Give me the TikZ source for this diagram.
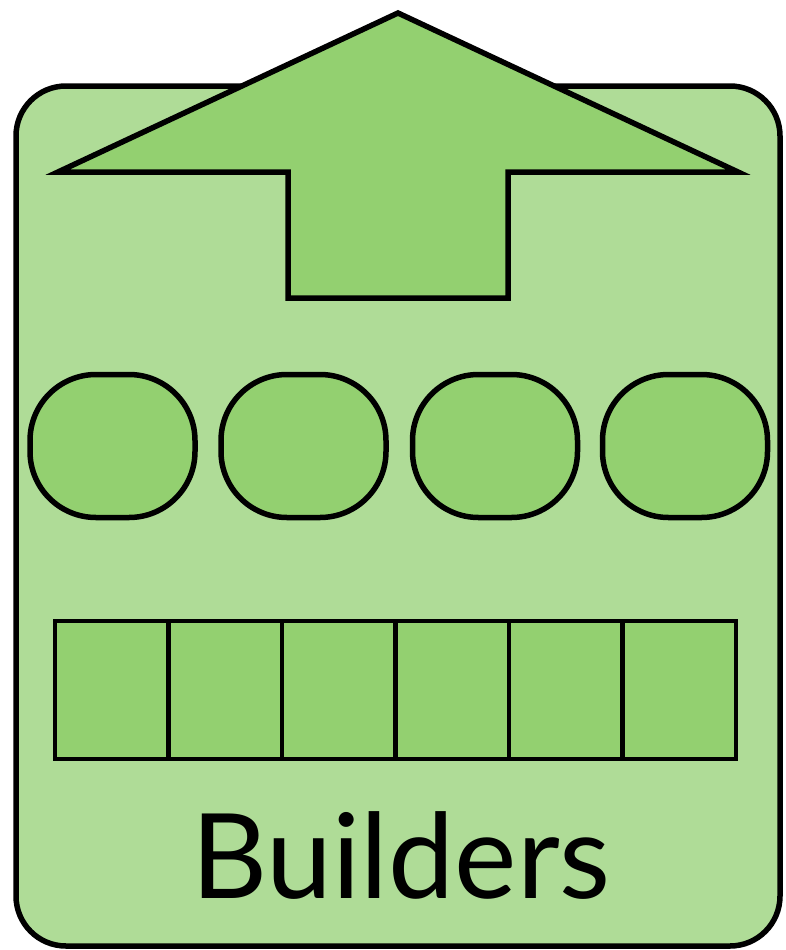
\documentclass[tikz,border=0pt]{standalone}
\usepackage{fontspec}
\setmainfont{Lato}
\usepackage{tikz}
\usetikzlibrary{positioning}
\definecolor{buildgreen} {HTML}{AFDC97}
\definecolor{workgreen}  {HTML}{93D070}

\begin{document}
\begin{tikzpicture}[
  frame/.style ={draw=black,line width=5.5pt,fill=buildgreen,rounded corners=50pt,
                 minimum width=764pt,minimum height=860pt,inner sep=0pt},
  worker/.style={draw=black,line width=5.5pt,fill=workgreen,rounded corners=66pt,
                 minimum width=165pt,minimum height=143pt,inner sep=0pt},
  cell/.style  ={draw=black,line width=4.5pt,fill=workgreen,
                 minimum width=113.5pt,minimum height=138pt,inner sep=0pt},
  arrowup/.style={draw=black,line width=5.5pt,fill=workgreen,line join=miter},
  title/.style ={font=\fontsize{118}{120}\selectfont,anchor=base,inner sep=0pt},
  x=1pt, y=-1pt
]
\useasboundingbox (0,0) rectangle (785,950);

%% Outer box
\node[frame] (box) at (398,516) {};

%% Big up arrow (drawn over the top edge of the box)
\draw[arrowup] (58,172) -- (398,13) -- (738,172) -- (508,172)
  -- (508,298) -- (288,298) -- (288,172) -- cycle;

%% Row of workers  (x = 112 / 303 / 495 / 685)
\node[worker] (w1) at (112.5,446) {};
\node[worker] (w2) at (303.5,446) {};
\node[worker] (w3) at (495,446)   {};
\node[worker] (w4) at (685,446)   {};

%% Row of cells  (55 .. 736, six equal parts)
\node[cell] (c1) at (111.75,690) {};
\node[cell] (c2) at (225.25,690) {};
\node[cell] (c3) at (338.75,690) {};
\node[cell] (c4) at (452.25,690) {};
\node[cell] (c5) at (565.75,690) {};
\node[cell] (c6) at (679.25,690) {};

%% Label
\node[title] (lbl) at (401,898) {Builders};

\end{tikzpicture}
\end{document}
